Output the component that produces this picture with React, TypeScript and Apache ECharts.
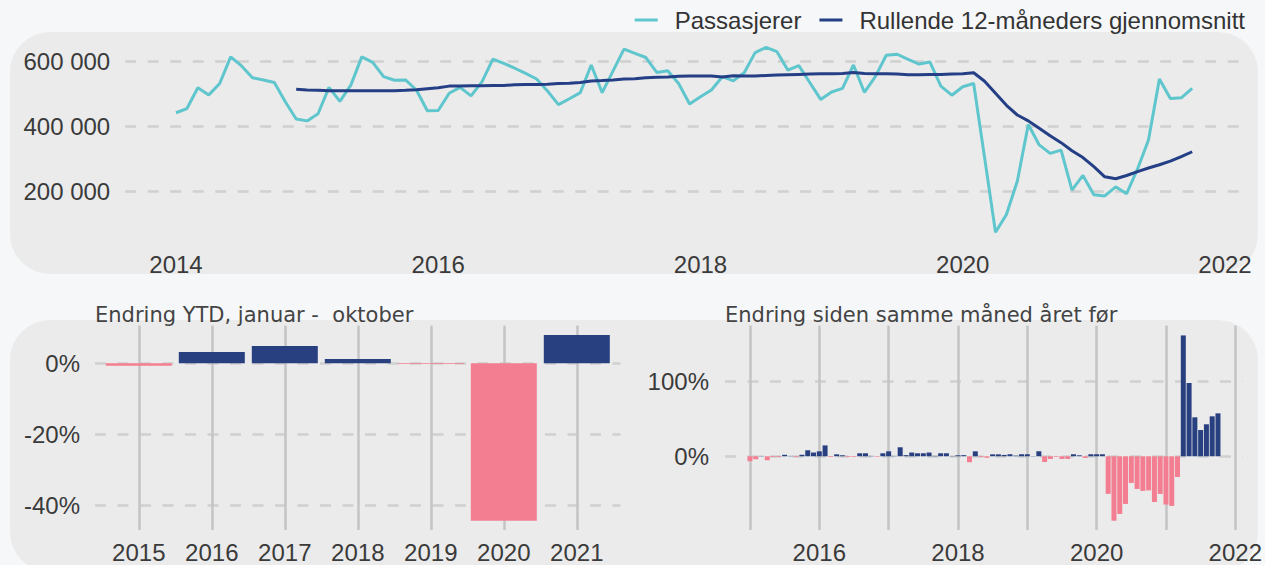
import React, { useEffect, useRef } from "react";
import * as echarts from "echarts";

// ---------- DATA ----------
// Monthly passengers (thousands), Jan 2014 .. Oct 2021
const passengerStartYear = 2014;
const passengersK = [
  443, 456, 520, 498, 533, 615, 587, 551, 544, 536, 477, 424, // 2014
  418, 440, 521, 478, 528, 615, 598, 554, 543, 544, 513, 449, // 2015
  450, 503, 521, 495, 538, 608, 595, 580, 564, 547, 510, 468, // 2016
  486, 505, 590, 505, 572, 639, 626, 613, 567, 572, 533, 470, // 2017
  492, 513, 554, 541, 566, 628, 644, 631, 574, 588, 536, 484, // 2018
  507, 518, 590, 506, 554, 620, 623, 607, 593, 599, 525, 497, // 2019
  523, 533, 305, 75, 130, 233, 407, 344, 318, 328, 205, 250, // 2020
  191, 187, 215, 194, 270, 359, 547, 487, 489, 518, // 2021
];
// Rolling 12-month average (thousands), Dec 2014 .. Oct 2021
const rollingStartMonthIndex = 11;
const rollingK = [
  515, // 2014-12
  513, 512, 511, 511, 511, 511, 511, 511, 511, 512, 514, 517, // 2015
  520, 525, 525, 526, 526, 527, 527, 529, 530, 530, 531, 533, // 2016
  534, 536, 541, 542, 544, 547, 548, 551, 552, 553, 555, 556, // 2017
  556, 556, 553, 557, 556, 556, 558, 559, 560, 561, 562, 563, // 2018
  563, 564, 567, 564, 563, 563, 562, 560, 560, 561, 561, 562, // 2019
  563, 566, 540, 503, 466, 436, 418, 395, 372, 351, 326, 305, // 2020
  277, 246, 240, 250, 262, 273, 283, 294, 308, 323, // 2021
];
// YTD change Jan-Oct (%)
const ytdYears = [2015, 2016, 2017, 2018, 2019, 2020, 2021];
const ytdChange = [-0.7, 3.2, 4.9, 1.2, -0.2, -44.4, 8.0];
// Monthly change vs same month previous year (%), Jan 2015 .. Oct 2021
const yoyStartYear = 2015;
const yoyChange = [
  -6.6, -4, 0.5, -5.3, -1, -1, 2, 0.5, -1, 2, 8, 5, // 2015
  6.6, 14.5, -1, 2.6, 1.3, -1, -1, 4, 4, 0.5, -0.8, 4, // 2016
  6.6, 0.5, 12, 1.5, 5, 4, 4, 5, 0.5, 4, 4, 0.3, // 2017
  1.3, 1.5, -8, 6.6, -1, -2, 2.6, 2.6, 1.8, 2.7, 0.9, 2.7, // 2018
  2.7, 0.4, 6.7, -7.6, -3.6, -0.9, -3.6, -3.6, 2.7, 1.3, -2.2, 2.7, // 2019
  2.7, 2.7, -50.2, -86, -77, -63.6, -35.6, -43.6, -46.2, -45.5, -61, -50.2, // 2020
  -64.4, -66.2, -27.6, 161.3, 97.8, 52, 35, 42.7, 53.3, 57.3, // 2021
];
const topYTicks = [200000, 400000, 600000];
const topXTicks = [2014, 2016, 2018, 2020, 2022];
const ytdYTicks = [-40, -20, 0];
const yoyYTicks = [0, 100];
const yoyXGridYears = [2015, 2016, 2017, 2018, 2019, 2020, 2021, 2022];
const yoyXLabels = [2016, 2018, 2020, 2022];

// ---------- STYLE ----------
const PAGE_BG = "#f6f7f9";
const PANEL_BG = "#ebebeb";
const CYAN = "#5ec6cc";
const NAVY = "#243f85";
const BAR_NAVY = "#283f80";
const PINK = "#f37e91";
const AX_FONT = "'Liberation Sans', Arial, sans-serif";
const TITLE_FONT = "'DejaVu Sans', 'Noto Sans', sans-serif";
const LABEL_COLOR = "#3a3a3a";

const spaced = (v: number) =>
  String(Math.round(v)).replace(/\B(?=(\d{3})+(?!\d))/g, " ");

const dashed = {
  show: true,
  lineStyle: { color: "#d0d0d0", width: 2.5, type: [11, 11.5] as any },
};
const vgrid = {
  show: true,
  lineStyle: { color: "#c4c4c4", width: 2.5, type: "solid" as const },
};
const axLabel = (extra: any) => ({
  fontFamily: AX_FONT,
  fontSize: 24,
  color: LABEL_COLOR,
  ...extra,
});
const titleStyle = {
  fontFamily: TITLE_FONT,
  fontSize: 21,
  fontWeight: "normal",
  color: "#444444",
};

export default function App() {
  const ref = useRef<HTMLDivElement>(null);

  useEffect(() => {
    if (!ref.current) return;
    document.body.style.background = PAGE_BG;
    const chart = echarts.init(ref.current, undefined, { renderer: "svg" });

    const passData = passengersK.map((v, m) => [
      passengerStartYear + m / 12,
      v * 1000,
    ]);
    const rollData = rollingK.map((v, i) => [
      passengerStartYear + (rollingStartMonthIndex + i) / 12,
      v * 1000,
    ]);
    const ytdData = ytdYears.map((y, i) => [y, ytdChange[i]]);
    const yoyData = yoyChange.map((v, i) => [yoyStartYear + i / 12, v]);

    const barColor = (p: any) => (p.value[1] < 0 ? PINK : BAR_NAVY);

    const option: any = {
      animation: false,
      backgroundColor: PAGE_BG,
      graphic: [
        {
          type: "rect",
          z: -10,
          silent: true,
          shape: { x: 10, y: 32, width: 1248, height: 242, r: 40 },
          style: { fill: PANEL_BG },
        },
        {
          type: "rect",
          z: -10,
          silent: true,
          shape: { x: 10, y: 320, width: 1248, height: 252, r: 40 },
          style: { fill: PANEL_BG },
        },
      ],
      title: [
        {
          text: "Endring YTD, januar -  oktober",
          left: 95,
          top: 304,
          padding: 0,
          textStyle: titleStyle,
        },
        {
          text: "Endring siden samme måned året før",
          left: 725,
          top: 304,
          padding: 0,
          textStyle: titleStyle,
        },
      ],
      legend: {
        right: 20,
        top: 8,
        padding: 0,
        icon: "rect",
        itemWidth: 23,
        itemHeight: 3,
        itemGap: 18,
        textStyle: {
          fontFamily: AX_FONT,
          fontSize: 24,
          color: "#333",
          padding: [0, 0, 0, 12],
        },
        data: ["Passasjerer", "Rullende 12-måneders gjennomsnitt"],
      },
      grid: [
        { left: 125.2, width: 1117.8, top: 38.2, height: 203.4 },
        { left: 95, width: 525.6, top: 325.6, height: 204.4 },
        { left: 725, width: 518.3, top: 325.6, height: 204.4 },
      ],
      xAxis: [
        {
          type: "value",
          gridIndex: 0,
          min: 2013.6125,
          max: 2022.1375,
          axisLine: { show: false },
          axisTick: { show: false, customValues: topXTicks },
          axisLabel: axLabel({
            customValues: topXTicks,
            margin: 11,
            formatter: (v: number) => String(Math.round(v)),
          }),
          splitLine: { show: false },
        },
        {
          type: "value",
          gridIndex: 1,
          min: 2014.4,
          max: 2021.6,
          axisLine: { show: false },
          axisTick: { show: false, customValues: ytdYears },
          axisLabel: axLabel({
            customValues: ytdYears,
            margin: 10,
            formatter: (v: number) => String(Math.round(v)),
          }),
          splitLine: vgrid,
        },
        {
          type: "value",
          gridIndex: 2,
          min: 2014.64,
          max: 2022.11,
          axisLine: { show: false },
          axisTick: { show: false, customValues: yoyXGridYears },
          axisLabel: axLabel({
            customValues: yoyXLabels,
            margin: 10,
            formatter: (v: number) => String(Math.round(v)),
          }),
          splitLine: vgrid,
        },
      ],
      yAxis: [
        {
          type: "value",
          gridIndex: 0,
          min: 46500,
          max: 672450,
          axisLine: { show: false },
          axisTick: { show: false, customValues: topYTicks },
          axisLabel: axLabel({
            customValues: topYTicks,
            margin: 15,
            formatter: spaced,
          }),
          splitLine: dashed,
        },
        {
          type: "value",
          gridIndex: 1,
          min: -47.02,
          max: 10.62,
          axisLine: { show: false },
          axisTick: { show: false, customValues: ytdYTicks },
          axisLabel: axLabel({
            customValues: ytdYTicks,
            margin: 15,
            formatter: (v: number) => `${Math.round(v)}%`,
          }),
          splitLine: dashed,
        },
        {
          type: "value",
          gridIndex: 2,
          min: -98.4,
          max: 174.4,
          axisLine: { show: false },
          axisTick: { show: false, customValues: yoyYTicks },
          axisLabel: axLabel({
            customValues: yoyYTicks,
            margin: 16,
            formatter: (v: number) => `${Math.round(v)}%`,
          }),
          splitLine: dashed,
        },
      ],
      series: [
        {
          name: "Passasjerer",
          type: "line",
          xAxisIndex: 0,
          yAxisIndex: 0,
          data: passData,
          showSymbol: false,
          color: CYAN,
          lineStyle: { color: CYAN, width: 3 },
          itemStyle: { color: CYAN },
        },
        {
          name: "Rullende 12-måneders gjennomsnitt",
          type: "line",
          xAxisIndex: 0,
          yAxisIndex: 0,
          data: rollData,
          showSymbol: false,
          color: NAVY,
          lineStyle: { color: NAVY, width: 3 },
          itemStyle: { color: NAVY },
        },
        {
          name: "ytd",
          type: "bar",
          xAxisIndex: 1,
          yAxisIndex: 1,
          barWidth: 66,
          data: ytdData,
          itemStyle: { color: barColor },
        },
        {
          name: "yoy",
          type: "bar",
          xAxisIndex: 2,
          yAxisIndex: 2,
          barWidth: 5,
          data: yoyData,
          itemStyle: { color: barColor },
        },
      ],
    };

    chart.setOption(option);
    return () => chart.dispose();
  }, []);

  return (
    <div
      ref={ref}
      style={{
        position: "fixed",
        left: 0,
        top: 0,
        width: "1265px",
        height: "565px",
      }}
    />
  );
}
